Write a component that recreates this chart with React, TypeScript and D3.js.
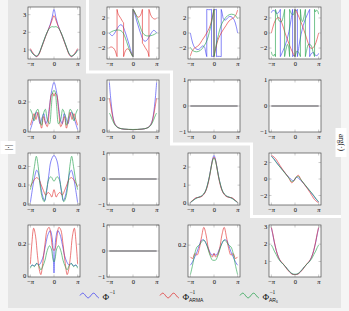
import React from "react";
import * as d3 from "d3";

const PI = Math.PI;

// ---- layout ----
const W = 349;
const H = 311;
const BOX = 52;
const colX = [28, 107, 188, 269];
const rowY = [7, 80, 153, 225];

const BLUE = "#3a3af2";
const RED = "#e02a2a";
const GREEN = "#1f9e48";
const GRAY = "#e5e5e5";

// ---- shared axis values ----
const xTicks = [-PI, 0, PI];
const xTickLabels = ["−", "0", ""];

// ---- magnitude |.| series, [omega, value] ----
const m00Blue = [[-3.14,1.02],[-2.9,0.85],[-2.6,0.7],[-2.3,0.63],[-2.0,0.78],[-1.7,1.1],[-1.4,1.45],[-1.1,1.8],[-0.8,2.1],[-0.5,2.45],[-0.25,2.85],[0,3.3],[0.25,2.85],[0.5,2.45],[0.8,2.1],[1.1,1.8],[1.4,1.45],[1.7,1.1],[2.0,0.78],[2.3,0.63],[2.6,0.7],[2.9,0.85],[3.14,1.02]];
const m00Red = [[-3.14,1.08],[-2.9,0.9],[-2.6,0.72],[-2.3,0.62],[-2.0,0.75],[-1.7,1.08],[-1.4,1.42],[-1.1,1.78],[-0.8,2.1],[-0.5,2.4],[-0.25,2.7],[0,2.95],[0.25,2.7],[0.5,2.4],[0.8,2.1],[1.1,1.78],[1.4,1.42],[1.7,1.08],[2.0,0.75],[2.3,0.62],[2.6,0.72],[2.9,0.9],[3.14,1.08]];
const m00Green = [[-3.14,0.98],[-2.9,0.82],[-2.6,0.7],[-2.3,0.66],[-2.0,0.8],[-1.7,1.12],[-1.4,1.48],[-1.1,1.82],[-0.8,2.1],[-0.5,2.27],[-0.25,2.32],[0,2.3],[0.25,2.32],[0.5,2.27],[0.8,2.1],[1.1,1.82],[1.4,1.48],[1.7,1.12],[2.0,0.8],[2.3,0.66],[2.6,0.7],[2.9,0.82],[3.14,0.98]];

const m10Blue = [[-3.14,0.01],[-2.9,0.05],[-2.6,0.1],[-2.35,0.13],[-2.1,0.1],[-1.85,0.05],[-1.6,0.09],[-1.35,0.12],[-1.1,0.05],[-0.85,0.08],[-0.6,0.17],[-0.3,0.28],[0,0.335],[0.3,0.28],[0.6,0.17],[0.85,0.08],[1.1,0.05],[1.35,0.12],[1.6,0.09],[1.85,0.05],[2.1,0.1],[2.35,0.13],[2.6,0.1],[2.9,0.05],[3.14,0.01]];
const m10Red = [[-3.14,0.04],[-2.9,0.08],[-2.65,0.12],[-2.4,0.08],[-2.15,0.13],[-1.9,0.07],[-1.65,0.02],[-1.4,0.1],[-1.15,0.06],[-0.9,0.03],[-0.6,0.15],[-0.35,0.25],[-0.15,0.26],[0,0.24],[0.15,0.26],[0.35,0.25],[0.6,0.15],[0.9,0.03],[1.15,0.06],[1.4,0.1],[1.65,0.02],[1.9,0.07],[2.15,0.13],[2.4,0.08],[2.65,0.12],[2.9,0.08],[3.14,0.04]];
const m10Green = [[-3.14,0.15],[-2.9,0.12],[-2.65,0.07],[-2.4,0.13],[-2.15,0.15],[-1.9,0.09],[-1.65,0.04],[-1.4,0.12],[-1.15,0.15],[-0.9,0.08],[-0.6,0.05],[-0.35,0.17],[-0.15,0.27],[0,0.28],[0.15,0.27],[0.35,0.17],[0.6,0.05],[0.9,0.08],[1.15,0.15],[1.4,0.12],[1.65,0.04],[1.9,0.09],[2.15,0.15],[2.4,0.13],[2.65,0.07],[2.9,0.12],[3.14,0.15]];

const m11Blue = [[-3.14,15.2],[-3.0,11],[-2.85,7.5],[-2.7,4.8],[-2.5,2.6],[-2.2,1.3],[-1.8,0.7],[-1.2,0.4],[-0.6,0.3],[0,0.25],[0.6,0.3],[1.2,0.4],[1.8,0.7],[2.2,1.3],[2.5,2.6],[2.7,4.8],[2.85,7.5],[3.0,11],[3.14,15.2]];
const m11Red = [[-3.14,10.2],[-3.0,8.3],[-2.85,6.2],[-2.7,4.3],[-2.5,2.5],[-2.2,1.3],[-1.8,0.7],[-1.2,0.4],[-0.6,0.3],[0,0.25],[0.6,0.3],[1.2,0.4],[1.8,0.7],[2.2,1.3],[2.5,2.5],[2.7,4.3],[2.85,6.2],[3.0,8.3],[3.14,10.2]];
const m11Green = [[-3.14,5.5],[-3.0,4.9],[-2.85,4.0],[-2.7,3.1],[-2.5,2.1],[-2.2,1.2],[-1.8,0.7],[-1.2,0.45],[-0.6,0.35],[0,0.3],[0.6,0.35],[1.2,0.45],[1.8,0.7],[2.2,1.2],[2.5,2.1],[2.7,3.1],[2.85,4.0],[3.0,4.9],[3.14,5.5]];

const zeroSeries = [[-3.14,0],[3.14,0]];

const m20Blue = [[-3.14,0.005],[-2.9,0.07],[-2.6,0.14],[-2.3,0.18],[-2.05,0.16],[-1.8,0.1],[-1.5,0.04],[-1.25,0.015],[-1.0,0.06],[-0.7,0.15],[-0.4,0.23],[0,0.26],[0.4,0.23],[0.7,0.15],[1.0,0.06],[1.25,0.015],[1.5,0.04],[1.8,0.1],[2.05,0.16],[2.3,0.18],[2.6,0.14],[2.9,0.07],[3.14,0.005]];
const m20Red = [[-3.14,0.09],[-2.9,0.11],[-2.6,0.13],[-2.3,0.14],[-2.0,0.13],[-1.7,0.1],[-1.4,0.07],[-1.1,0.045],[-0.8,0.06],[-0.5,0.05],[-0.3,0.035],[0,0.075],[0.3,0.035],[0.5,0.05],[0.8,0.06],[1.1,0.045],[1.4,0.07],[1.7,0.1],[2.0,0.13],[2.3,0.14],[2.6,0.13],[2.9,0.11],[3.14,0.09]];
const m20Green = [[-3.14,0.075],[-2.9,0.12],[-2.6,0.2],[-2.35,0.255],[-2.1,0.2],[-1.85,0.1],[-1.55,0.03],[-1.3,0.01],[-1.0,0.07],[-0.7,0.13],[-0.4,0.145],[0,0.12],[0.4,0.145],[0.7,0.13],[1.0,0.07],[1.3,0.01],[1.55,0.03],[1.85,0.1],[2.1,0.2],[2.35,0.255],[2.6,0.2],[2.9,0.12],[3.14,0.075]];

const m22Blue = [[-3.14,0.03],[-2.8,0.15],[-2.4,0.28],[-2.0,0.33],[-1.6,0.4],[-1.2,0.6],[-0.9,0.95],[-0.6,1.5],[-0.35,2.1],[-0.15,2.5],[0,2.65],[0.15,2.5],[0.35,2.1],[0.6,1.5],[0.9,0.95],[1.2,0.6],[1.6,0.4],[2.0,0.33],[2.4,0.28],[2.8,0.15],[3.14,0.03]];
const m22Red = [[-3.14,0.05],[-2.8,0.17],[-2.4,0.3],[-2.0,0.32],[-1.6,0.38],[-1.2,0.58],[-0.9,0.9],[-0.6,1.45],[-0.35,2.05],[-0.15,2.45],[0,2.55],[0.15,2.45],[0.35,2.05],[0.6,1.45],[0.9,0.9],[1.2,0.58],[1.6,0.38],[2.0,0.32],[2.4,0.3],[2.8,0.17],[3.14,0.05]];
const m22Green = [[-3.14,0.04],[-2.8,0.14],[-2.4,0.26],[-2.0,0.34],[-1.6,0.42],[-1.2,0.62],[-0.9,0.97],[-0.6,1.5],[-0.35,2.05],[-0.15,2.4],[0,2.5],[0.15,2.4],[0.35,2.05],[0.6,1.5],[0.9,0.97],[1.2,0.62],[1.6,0.42],[2.0,0.34],[2.4,0.26],[2.8,0.14],[3.14,0.04]];

const m30Blue = [[-3.14,0.06],[-2.9,0.07],[-2.6,0.065],[-2.3,0.08],[-2.0,0.07],[-1.7,0.09],[-1.4,0.13],[-1.1,0.2],[-0.8,0.26],[-0.5,0.285],[-0.25,0.24],[-0.08,0.1],[0,0.02],[0.08,0.1],[0.25,0.24],[0.5,0.285],[0.8,0.26],[1.1,0.2],[1.4,0.13],[1.7,0.09],[2.0,0.07],[2.3,0.08],[2.6,0.065],[2.9,0.07],[3.14,0.06]];
const m30Red = [[-3.14,0.075],[-2.95,0.2],[-2.7,0.3],[-2.45,0.25],[-2.2,0.13],[-1.95,0.04],[-1.75,0.01],[-1.5,0.08],[-1.2,0.2],[-0.9,0.29],[-0.65,0.305],[-0.4,0.25],[-0.2,0.18],[0,0.16],[0.2,0.18],[0.4,0.25],[0.65,0.305],[0.9,0.29],[1.2,0.2],[1.5,0.08],[1.75,0.01],[1.95,0.04],[2.2,0.13],[2.45,0.25],[2.7,0.3],[2.95,0.2],[3.14,0.075]];
const m30Green = [[-3.14,0.05],[-2.9,0.07],[-2.6,0.06],[-2.3,0.08],[-2.0,0.065],[-1.75,0.04],[-1.5,0.06],[-1.2,0.1],[-0.9,0.16],[-0.6,0.19],[-0.35,0.17],[-0.15,0.11],[0,0.09],[0.15,0.11],[0.35,0.17],[0.6,0.19],[0.9,0.16],[1.2,0.1],[1.5,0.06],[1.75,0.04],[2.0,0.065],[2.3,0.08],[2.6,0.06],[2.9,0.07],[3.14,0.05]];

const m32Blue = [[-3.14,0.14],[-2.85,0.15],[-2.55,0.165],[-2.25,0.18],[-1.95,0.2],[-1.65,0.215],[-1.35,0.215],[-1.05,0.205],[-0.75,0.19],[-0.45,0.175],[-0.2,0.17],[0,0.175],[0.2,0.17],[0.45,0.175],[0.75,0.19],[1.05,0.205],[1.35,0.215],[1.65,0.215],[1.95,0.2],[2.25,0.18],[2.55,0.165],[2.85,0.15],[3.14,0.14]];
const m32Red = [[-3.14,0.165],[-2.85,0.16],[-2.55,0.175],[-2.25,0.17],[-1.95,0.19],[-1.65,0.225],[-1.35,0.253],[-1.05,0.23],[-0.75,0.19],[-0.45,0.17],[-0.2,0.165],[0,0.175],[0.2,0.165],[0.45,0.17],[0.75,0.19],[1.05,0.23],[1.35,0.253],[1.65,0.225],[1.95,0.19],[2.25,0.17],[2.55,0.175],[2.85,0.16],[3.14,0.165]];
const m32Green = [[-3.14,0.112],[-2.85,0.14],[-2.55,0.175],[-2.25,0.195],[-1.95,0.2],[-1.65,0.21],[-1.35,0.215],[-1.05,0.205],[-0.75,0.185],[-0.45,0.165],[-0.2,0.155],[0,0.155],[0.2,0.155],[0.45,0.165],[0.75,0.185],[1.05,0.205],[1.35,0.215],[1.65,0.21],[1.95,0.2],[2.25,0.195],[2.55,0.175],[2.85,0.14],[3.14,0.112]];

const m33Blue = [[-3.14,2.95],[-2.95,2.55],[-2.75,2.1],[-2.5,1.65],[-2.2,1.25],[-1.9,1.0],[-1.6,0.85],[-1.3,0.72],[-1.0,0.55],[-0.7,0.4],[-0.4,0.28],[0,0.25],[0.4,0.28],[0.7,0.4],[1.0,0.55],[1.3,0.72],[1.6,0.85],[1.9,1.0],[2.2,1.25],[2.5,1.65],[2.75,2.1],[2.95,2.55],[3.14,2.95]];
const m33Red = [[-3.14,2.97],[-2.95,2.6],[-2.75,2.15],[-2.5,1.65],[-2.2,1.25],[-1.9,1.02],[-1.6,0.88],[-1.3,0.7],[-1.0,0.52],[-0.7,0.38],[-0.4,0.27],[0,0.24],[0.4,0.27],[0.7,0.38],[1.0,0.52],[1.3,0.7],[1.6,0.88],[1.9,1.02],[2.2,1.25],[2.5,1.65],[2.75,2.15],[2.95,2.6],[3.14,2.97]];
const m33Green = [[-3.14,1.95],[-2.95,1.8],[-2.75,1.6],[-2.5,1.4],[-2.2,1.15],[-1.9,0.98],[-1.6,0.85],[-1.3,0.72],[-1.0,0.56],[-0.7,0.42],[-0.4,0.3],[0,0.26],[0.4,0.3],[0.7,0.42],[1.0,0.56],[1.3,0.72],[1.6,0.85],[1.9,0.98],[2.2,1.15],[2.5,1.4],[2.75,1.6],[2.95,1.8],[3.14,1.95]];

// ---- phase arg(.) series: lists of continuous pieces, wraps join them ----
const a01Blue = [
  [[-3.14,0.0],[-2.95,-0.25],[-2.75,-0.35],[-2.5,-0.1],[-2.2,0.4],[-1.9,0.9],[-1.6,1.1],[-1.35,0.9],[-1.1,0.3],[-0.8,-0.6],[-0.5,-1.6],[-0.25,-2.5],[0,-3.14]],
  [[0,3.14],[0.25,2.5],[0.5,1.6],[0.8,0.6],[1.1,-0.3],[1.35,-0.9],[1.6,-1.1],[1.9,-0.9],[2.2,-0.4],[2.5,0.1],[2.75,0.35],[2.95,0.25],[3.14,0.0]],
];
const a01Red = [
  [[-3.14,-1.95],[-2.9,-1.85],[-2.6,-2.0],[-2.35,-2.4],[-2.2,-2.9],[-2.12,-3.14]],
  [[-2.12,3.14],[-2.0,2.6],[-1.85,2.3],[-1.6,1.9],[-1.4,1.55],[-1.25,1.35]],
  [[-1.25,-3.14],[-1.1,-2.6],[-0.9,-2.2],[-0.7,-2.1],[-0.4,-2.4],[-0.15,-2.9],[0,-3.14]],
  [[0,3.14],[0.15,2.9],[0.4,2.4],[0.7,2.1],[0.9,2.2],[1.1,2.6],[1.25,3.14]],
  [[1.25,-1.35],[1.4,-1.55],[1.6,-1.9],[1.85,-2.3],[2.0,-2.6],[2.12,-3.14]],
  [[2.12,3.14],[2.2,2.9],[2.35,2.4],[2.6,2.0],[2.9,1.85],[3.14,1.95]],
];
const a01Green = [
  [[-3.14,0.0],[-2.8,0.2],[-2.4,0.35],[-2.0,0.4],[-1.6,0.3],[-1.3,0.0],[-1.0,-0.7],[-0.7,-1.6],[-0.4,-2.4],[-0.15,-2.95],[0,-3.14]],
  [[0,3.14],[0.15,2.95],[0.4,2.4],[0.7,1.6],[1.0,0.7],[1.3,0.0],[1.6,-0.3],[2.0,-0.4],[2.4,-0.35],[2.8,-0.2],[3.14,0.0]],
];

const a02Blue = [
  [[-3.14,0.0],[-2.95,-0.9],[-2.7,-1.7],[-2.4,-2.1],[-2.1,-2.2],[-1.8,-2.0],[-1.5,-1.7],[-1.25,-1.9],[-1.1,-2.6],[-0.96,-3.14]],
  [[-0.96,3.14],[-0.7,3.1],[-0.45,3.1],[-0.33,3.14]],
  [[-0.33,-3.14],[-0.15,-3.1],[0,-3.14]],
  [[0,3.14],[0.15,3.1],[0.33,3.14]],
  [[0.33,-3.14],[0.45,-3.1],[0.7,-3.1],[0.96,-3.14]],
  [[0.96,3.14],[1.1,2.6],[1.25,1.9],[1.5,1.7],[1.8,2.0],[2.1,2.2],[2.4,2.1],[2.7,1.7],[2.95,0.9],[3.14,0.0]],
];
const a02Red = [
  [[-3.14,-3.05],[-2.8,-2.2],[-2.4,-1.9],[-2.0,-1.6],[-1.6,-1.0],[-1.2,-0.4],[-0.8,0.3],[-0.5,1.0],[-0.25,2.0],[-0.05,2.9],[0,3.14]],
  [[0,-3.14],[0.05,-2.9],[0.25,-2.0],[0.5,-1.0],[0.8,-0.3],[1.2,0.4],[1.6,1.0],[2.0,1.6],[2.4,1.9],[2.8,2.2],[3.14,3.05]],
];
const a02Green = [
  [[-3.14,-1.9],[-2.8,-2.35],[-2.3,-2.5],[-1.8,-2.3],[-1.3,-1.7],[-0.9,-0.9],[-0.6,0.2],[-0.3,1.5],[-0.1,2.6],[0,3.14]],
  [[0,-3.14],[0.1,-2.6],[0.3,-1.5],[0.6,-0.2],[0.9,0.9],[1.3,1.7],[1.8,2.3],[2.3,2.5],[2.8,2.35],[3.14,1.9]],
];

const a03Blue = [
  [[-3.14,2.7],[-2.95,3.0],[-2.7,2.95],[-2.45,2.6],[-2.2,2.7],[-1.95,3.14]],
  [[-1.95,-3.14],[-1.7,-2.6],[-1.4,-1.9],[-1.1,-1.0],[-0.8,0.2],[-0.55,1.6],[-0.32,3.14]],
  [[-0.32,-3.14],[-0.15,-2.95],[0,-3.14]],
  [[0,3.14],[0.15,2.95],[0.32,3.14]],
  [[0.32,-3.14],[0.55,-1.6],[0.8,-0.2],[1.1,1.0],[1.4,1.9],[1.7,2.6],[1.95,3.14]],
  [[1.95,-3.14],[2.2,-2.7],[2.45,-2.6],[2.7,-2.95],[2.95,-3.0],[3.14,-2.7]],
];
const a03Red = [
  [[-3.14,0.0],[-2.9,0.9],[-2.65,1.6],[-2.35,2.0],[-2.05,2.0],[-1.7,1.2],[-1.35,0.1],[-1.0,-0.9],[-0.7,-1.7],[-0.4,-2.4],[-0.15,-2.9],[0,-3.14]],
  [[0,3.14],[0.15,2.9],[0.4,2.4],[0.7,1.7],[1.0,0.9],[1.35,-0.1],[1.7,-1.2],[2.05,-2.0],[2.35,-2.0],[2.65,-1.6],[2.9,-0.9],[3.14,0.0]],
];
const a03Green = [
  [[-3.14,-2.5],[-3.0,-2.95],[-2.85,-3.05],[-2.7,-2.8],[-2.6,-3.14]],
  [[-2.6,3.14],[-2.4,2.5],[-2.1,1.6],[-1.8,1.5],[-1.55,2.3],[-1.38,3.14]],
  [[-1.38,-3.14],[-1.2,-2.2],[-1.0,-1.5],[-0.85,-1.9],[-0.72,-3.14]],
  [[-0.72,3.14],[-0.5,2.6],[-0.25,2.4],[-0.1,2.8],[0,3.14]],
  [[0,-3.14],[0.1,-2.8],[0.25,-2.4],[0.5,-2.6],[0.72,-3.14]],
  [[0.72,3.14],[0.85,1.9],[1.0,1.5],[1.2,2.2],[1.38,3.14]],
  [[1.38,-3.14],[1.55,-2.3],[1.8,-1.5],[2.1,-1.6],[2.4,-2.5],[2.6,-3.14]],
  [[2.6,3.14],[2.7,2.8],[2.85,3.05],[3.0,2.95],[3.14,2.5]],
];

const a23Blue = [[-3.14,2.8],[-2.8,2.45],[-2.4,1.95],[-2.0,1.5],[-1.6,1.05],[-1.2,0.6],[-0.8,0.2],[-0.45,-0.1],[-0.2,-0.2],[0,0],[0.2,0.2],[0.45,0.1],[0.8,-0.2],[1.2,-0.6],[1.6,-1.05],[2.0,-1.5],[2.4,-1.95],[2.8,-2.45],[3.14,-2.8]];
const a23Red = [[-3.14,2.87],[-2.9,2.75],[-2.6,2.5],[-2.3,2.1],[-2.0,1.65],[-1.6,1.1],[-1.2,0.6],[-0.8,0.1],[-0.45,-0.45],[-0.2,-0.3],[0,0],[0.2,0.3],[0.45,0.45],[0.8,-0.1],[1.2,-0.6],[1.6,-1.1],[2.0,-1.65],[2.3,-2.1],[2.6,-2.5],[2.9,-2.75],[3.14,-2.87]];
const a23Green = [[-3.14,2.75],[-2.8,2.4],[-2.4,1.9],[-2.0,1.45],[-1.6,1.0],[-1.2,0.55],[-0.8,0.1],[-0.45,-0.3],[-0.2,-0.25],[0,0],[0.2,0.25],[0.45,0.3],[0.8,-0.1],[1.2,-0.55],[1.6,-1.0],[2.0,-1.45],[2.4,-1.9],[2.8,-2.4],[3.14,-2.75]];

// ---- y tick values per panel ----
const ticks123 = [1, 2, 3];
const ticksPhase = [-2, 0, 2];
const ticksFlat = [-1, 0, 1];

// grid of panels; each series is a list of pieces
const cells = [
  { row: 0, col: 0, series: [[m00Blue], [m00Red], [m00Green]], yTicks: ticks123 },
  { row: 0, col: 1, series: [a01Blue, a01Red, a01Green], yTicks: ticksPhase },
  { row: 0, col: 2, series: [a02Blue, a02Red, a02Green], yTicks: ticksPhase },
  { row: 0, col: 3, series: [a03Blue, a03Red, a03Green], yTicks: ticksPhase },
  { row: 1, col: 0, series: [[m10Blue], [m10Red], [m10Green]], yTicks: [0, 0.2] },
  { row: 1, col: 1, series: [[m11Blue], [m11Red], [m11Green]], yTicks: [0, 10] },
  { row: 1, col: 2, series: [[zeroSeries], [zeroSeries], [zeroSeries]], yTicks: ticksFlat, flat: true },
  { row: 1, col: 3, series: [[zeroSeries], [zeroSeries], [zeroSeries]], yTicks: ticksFlat, flat: true },
  { row: 2, col: 0, series: [[m20Blue], [m20Red], [m20Green]], yTicks: [0, 0.1, 0.2] },
  { row: 2, col: 1, series: [[zeroSeries], [zeroSeries], [zeroSeries]], yTicks: ticksFlat, flat: true },
  { row: 2, col: 2, series: [[m22Blue], [m22Red], [m22Green]], yTicks: [0, 1, 2] },
  { row: 2, col: 3, series: [[a23Blue], [a23Red], [a23Green]], yTicks: ticksPhase },
  { row: 3, col: 0, series: [[m30Blue], [m30Red], [m30Green]], yTicks: [0, 0.2] },
  { row: 3, col: 1, series: [[zeroSeries], [zeroSeries], [zeroSeries]], yTicks: ticksFlat, flat: true },
  { row: 3, col: 2, series: [[m32Blue], [m32Red], [m32Green]], yTicks: [0.2] },
  { row: 3, col: 3, series: [[m33Blue], [m33Red], [m33Green]], yTicks: ticks123 },
];

const colors = [BLUE, RED, GREEN];
const fmt = (v) => (v < 0 ? "−" + Math.abs(v) : String(v));
const tickFont = "Liberation Serif, DejaVu Serif, serif";

function Panel({ cell, idx }) {
  const x0 = colX[cell.col];
  const y0 = rowY[cell.row];
  const x = d3.scaleLinear().domain([-PI - 0.1 * PI, PI + 0.1 * PI]).range([x0, x0 + BOX]);
  let dom = [-1, 1];
  if (!cell.flat) {
    const [lo, hi] = d3.extent(cell.series.flat(2), (d) => d[1]);
    const p = (hi - lo) * 0.05;
    dom = [lo - p, hi + p];
  }
  const y = d3.scaleLinear().domain(dom).range([y0 + BOX, y0]);
  const line = d3
    .line()
    .x((d) => x(d[0]))
    .y((d) => y(d[1]))
    .curve(d3.curveCatmullRom.alpha(0.5));

  const pathFor = (pieces) => {
    let d = "";
    pieces.forEach((seg, i) => {
      d += line(seg);
      if (i < pieces.length - 1) {
        const a = seg[seg.length - 1];
        const b = pieces[i + 1][0];
        d += `M${x(a[0])},${y(a[1])}L${x(b[0])},${y(b[1])}`;
      }
    });
    return d;
  };

  const clipId = `clip${idx}`;
  const tl = 2.5;
  return (
    <g>
      <clipPath id={clipId}>
        <rect x={x0} y={y0} width={BOX} height={BOX} />
      </clipPath>
      <rect x={x0} y={y0} width={BOX} height={BOX} fill="#fff" />
      <g clipPath={`url(#${clipId})`}>
        {cell.series.map((pieces, i) => (
          <path key={i} d={pathFor(pieces)} fill="none" stroke={colors[i]} strokeWidth={cell.flat ? 1.1 : 0.8} strokeOpacity={cell.flat ? 0.55 : 0.78} />
        ))}
      </g>
      {xTicks.map((t, i) => (
        <g key={"xt" + i} stroke="#999" strokeWidth={0.5}>
          <line x1={x(t)} x2={x(t)} y1={y0 + BOX} y2={y0 + BOX - tl} />
          <line x1={x(t)} x2={x(t)} y1={y0} y2={y0 + tl} />
        </g>
      ))}
      {cell.yTicks.map((t, i) => (
        <g key={"yt" + i} stroke="#999" strokeWidth={0.5}>
          <line x1={x0} x2={x0 + tl} y1={y(t)} y2={y(t)} />
          <line x1={x0 + BOX} x2={x0 + BOX - tl} y1={y(t)} y2={y(t)} />
        </g>
      ))}
      <rect x={x0} y={y0} width={BOX} height={BOX} fill="none" stroke="#4a4a4a" strokeWidth={0.7} />
      <g opacity={0.99}>
        {xTicks.map((t, i) => (
          <text key={"xl" + i} x={x(t) + 0.3} y={y0 + BOX + 6.8} fontSize={6.5} fontFamily={tickFont} textAnchor="middle" fill="#000">
            {xTickLabels[i]}
            {i !== 1 && <tspan fontStyle="italic">π</tspan>}
          </text>
        ))}
        {cell.yTicks.map((t, i) => (
          <text key={"yl" + i} x={x0 - 1.8} y={y(t) + 2.2} fontSize={6.5} fontFamily={tickFont} textAnchor="end" fill="#000">
            {fmt(t)}
          </text>
        ))}
      </g>
    </g>
  );
}

function Wave({ x0, yc, color }) {
  const pts = d3.range(0, 19.01, 0.5).map((t) => [x0 + t, yc - 2.3 * Math.sin((t / 19) * 2 * PI * 1.75)]);
  const d = d3.line().curve(d3.curveCatmullRom)(pts);
  return <path d={d} fill="none" stroke={color} strokeWidth={0.8} />;
}

const legendItems = [
  { x: 80, color: BLUE, sub: "", subScript: "" },
  { x: 160, color: RED, sub: "ARMA", subScript: "" },
  { x: 240, color: GREEN, sub: "AR", subScript: "6" },
];

export default function App() {
  const stair = "M87.5,0 L87.5,72 L171.5,72 L171.5,144 L251.5,144 L251.5,216.5 L341,216.5";
  return (
    <svg width={W} height={H} style={{ display: "block", position: "absolute", left: 0, top: 0 }}>
      <rect x={0} y={0} width={W} height={H} fill="#f5f5f5" />
      <rect x={8} y={0} width={333} height={308} fill={GRAY} />
      <path d={stair} fill="none" stroke="#fff" strokeWidth={3} />
      {cells.map((c, i) => (
        <Panel key={i} cell={c} idx={i} />
      ))}
      {legendItems.map((it, i) => (
        <g key={i}>
          <Wave x0={it.x} yc={295.5} color={it.color} />
          <text x={it.x + 22.5} y={299.5} fontSize={9} fontFamily={tickFont} fill="#111">Φ</text>
          <text x={it.x + 29.5} y={293.5} fontSize={5.5} fontFamily={tickFont} fill="#111">−1</text>
          {it.sub && (
            <text x={it.x + 29} y={302} fontSize={5} fontFamily="Liberation Sans, Arial, sans-serif" fill="#111">
              {it.sub}
              {it.subScript && <tspan fontSize={3.4} dy={0.8}>{it.subScript}</tspan>}
            </text>
          )}
        </g>
      ))}
      <rect x={0.5} y={141} width={15} height={13} fill="#fff" />
      <text transform="translate(8,147.5) rotate(-90)" fontSize={8} fontFamily={tickFont} textAnchor="middle" dy={2.8} fill="#111">
        |·|
      </text>
      <rect x={335.5} y={128} width={11} height={29} fill="#fff" />
      <text transform="translate(341,142.5) rotate(90)" fontSize={7.5} fontFamily={tickFont} textAnchor="middle" dy={2.5} fill="#111">
        arg(·)
      </text>
    </svg>
  );
}
